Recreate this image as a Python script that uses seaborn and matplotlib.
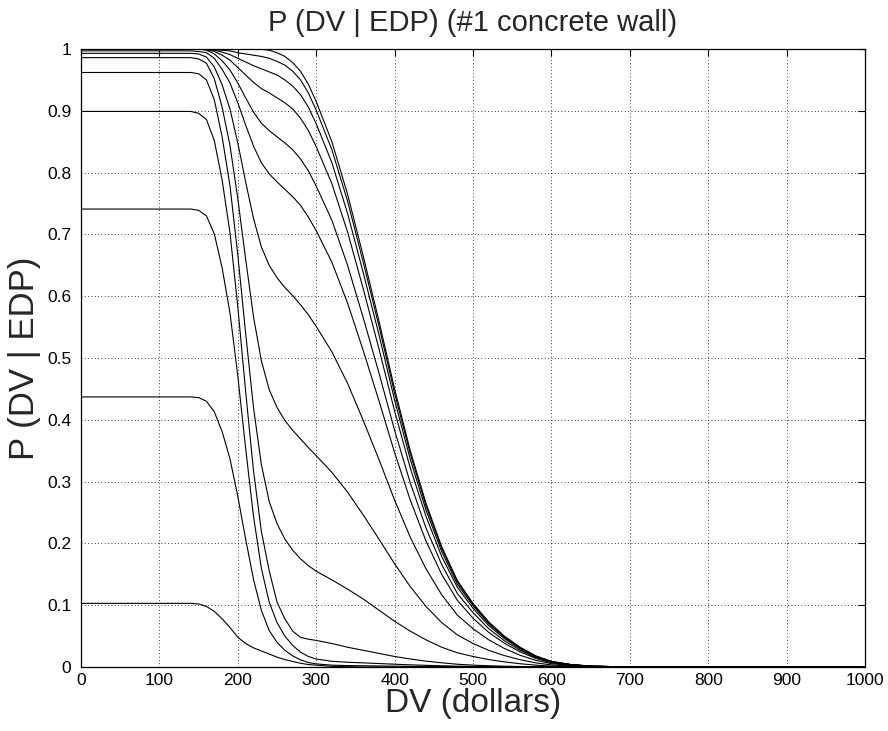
import numpy as np
import pandas as pd
import matplotlib
matplotlib.use("Agg")
import matplotlib.pyplot as plt
import seaborn as sns

# DV grid (dollars) shared by every curve
dv = [0, 140, 150, 160, 170, 180, 190, 200, 210, 220, 230, 240, 250, 260, 270, 280, 290, 300,
      320, 340, 360, 380, 400, 420, 440, 460, 480, 500, 520, 540, 560, 580, 600, 625, 650, 700, 1000]

# P(DV > dv | EDP), one list per EDP level
p_edp01 = [0.103, 0.103, 0.102, 0.098, 0.090, 0.078, 0.064, 0.048, 0.038, 0.031, 0.026, 0.021, 0.016, 0.012,
           0.009, 0.006, 0.004, 0.003,
           0.001, 0.0005, 0, 0, 0, 0, 0, 0, 0, 0, 0, 0, 0, 0, 0, 0, 0, 0, 0]
p_edp02 = [0.437, 0.437, 0.436, 0.430, 0.413, 0.381, 0.337, 0.276, 0.207, 0.142, 0.092, 0.059, 0.040, 0.027,
           0.018, 0.0116, 0.0072, 0.005,
           0.003, 0.0023, 0.002, 0.0017, 0.0014, 0.001, 0.0008, 0.0006, 0.0004, 0.0003, 0, 0, 0, 0, 0, 0, 0, 0, 0]
p_edp03 = [0.741, 0.741, 0.739, 0.730, 0.701, 0.646, 0.573, 0.471, 0.354, 0.244, 0.160, 0.105, 0.072, 0.050,
           0.035, 0.024, 0.017, 0.013,
           0.0092, 0.0077, 0.0067, 0.0056, 0.0045, 0.0035, 0.0027, 0.002, 0.0014, 0.001, 0.0007, 0.0005,
           0.0003, 0.0002, 0.0001, 0, 0, 0, 0]
p_edp04 = [0.899, 0.899, 0.896, 0.886, 0.852, 0.788, 0.703, 0.583, 0.446, 0.318, 0.220, 0.156, 0.105, 0.078,
           0.058, 0.048, 0.045, 0.043,
           0.038, 0.032, 0.027, 0.022, 0.017, 0.013, 0.0095, 0.0068, 0.0045, 0.003, 0.002, 0.0013,
           0.0008, 0.0004, 0.0002, 0.0001, 0, 0, 0]
p_edp05 = [0.962, 0.962, 0.960, 0.950, 0.918, 0.858, 0.779, 0.667, 0.540, 0.420, 0.328, 0.268, 0.232, 0.207,
           0.189, 0.175, 0.164, 0.155,
           0.141, 0.126, 0.110, 0.092, 0.074, 0.058, 0.044, 0.032, 0.023, 0.017, 0.012, 0.0083,
           0.0053, 0.003, 0.0015, 0.0007, 0.0002, 0, 0]
p_edp06 = [0.986, 0.986, 0.984, 0.977, 0.952, 0.906, 0.844, 0.758, 0.660, 0.567, 0.496, 0.449, 0.420, 0.399,
           0.383, 0.369, 0.355, 0.342,
           0.315, 0.283, 0.246, 0.207, 0.167, 0.130, 0.098, 0.072, 0.052, 0.038, 0.027, 0.0185,
           0.0118, 0.0067, 0.0033, 0.0015, 0.0006, 0, 0]
p_edp07 = [0.993, 0.993, 0.992, 0.987, 0.971, 0.942, 0.903, 0.848, 0.785, 0.726, 0.680, 0.650, 0.630, 0.614,
           0.601, 0.586, 0.570, 0.551,
           0.510, 0.459, 0.399, 0.336, 0.270, 0.210, 0.159, 0.117, 0.084, 0.062, 0.044, 0.030,
           0.019, 0.0108, 0.0054, 0.0024, 0.0009, 0, 0]
p_edp08 = [0.997, 0.997, 0.996, 0.994, 0.985, 0.967, 0.945, 0.913, 0.877, 0.843, 0.816, 0.798, 0.785, 0.773,
           0.761, 0.747, 0.728, 0.706,
           0.655, 0.589, 0.512, 0.431, 0.347, 0.270, 0.204, 0.150, 0.108, 0.079, 0.056, 0.0385,
           0.0246, 0.0139, 0.0069, 0.0031, 0.0012, 0, 0]
p_edp09 = [1.0, 1.0, 1.0, 0.998, 0.992, 0.981, 0.966, 0.945, 0.921, 0.898, 0.880, 0.868, 0.858, 0.848,
           0.837, 0.822, 0.803, 0.778,
           0.723, 0.650, 0.565, 0.476, 0.383, 0.298, 0.225, 0.166, 0.119, 0.088, 0.062, 0.0425,
           0.0272, 0.0153, 0.0077, 0.0034, 0.0013, 0, 0]
p_edp10 = [1.0, 1.0, 1.0, 0.999, 0.996, 0.990, 0.982, 0.970, 0.958, 0.946, 0.936, 0.929, 0.921, 0.913,
           0.903, 0.888, 0.868, 0.842,
           0.782, 0.704, 0.612, 0.515, 0.414, 0.322, 0.244, 0.179, 0.129, 0.095, 0.067, 0.046,
           0.0294, 0.0166, 0.0083, 0.0037, 0.0014, 0, 0]
p_edp11 = [1.0, 1.0, 1.0, 0.999, 0.998, 0.995, 0.991, 0.985, 0.979, 0.973, 0.968, 0.963, 0.958, 0.950,
           0.940, 0.926, 0.906, 0.879,
           0.816, 0.734, 0.638, 0.538, 0.432, 0.336, 0.254, 0.187, 0.134, 0.099, 0.070, 0.048,
           0.0307, 0.0173, 0.0086, 0.0038, 0.0014, 0, 0]
p_edp12 = [1.0, 1.0, 1.0, 1.0, 0.999, 0.998, 0.997, 0.994, 0.992, 0.990, 0.988, 0.985, 0.980, 0.974,
           0.964, 0.950, 0.929, 0.901,
           0.837, 0.754, 0.655, 0.552, 0.443, 0.345, 0.261, 0.192, 0.138, 0.101, 0.072, 0.049,
           0.0315, 0.0177, 0.0089, 0.0039, 0.0015, 0, 0]
p_edp13 = [1.0, 1.0, 1.0, 1.0, 1.0, 1.0, 1.0, 1.0, 1.0, 1.0, 0.9995, 0.998, 0.994, 0.988,
           0.978, 0.964, 0.943, 0.915,
           0.850, 0.765, 0.665, 0.560, 0.450, 0.350, 0.265, 0.195, 0.140, 0.103, 0.073, 0.050,
           0.032, 0.018, 0.009, 0.004, 0.0015, 0, 0]

curves = [p_edp01, p_edp02, p_edp03, p_edp04, p_edp05, p_edp06, p_edp07,
          p_edp08, p_edp09, p_edp10, p_edp11, p_edp12, p_edp13]

x_ticks = [0, 100, 200, 300, 400, 500, 600, 700, 800, 900, 1000]
y_ticks = [0, 0.1, 0.2, 0.3, 0.4, 0.5, 0.6, 0.7, 0.8, 0.9, 1]
y_tick_labels = ["0", "0.1", "0.2", "0.3", "0.4", "0.5", "0.6", "0.7", "0.8", "0.9", "1"]

rows = []
for i, c in enumerate(curves):
    for x, p in zip(dv, c):
        rows.append({"curve": i, "dv": x, "p": p})
df = pd.DataFrame(rows)

sns.set_style("white")
plt.rcParams["font.family"] = ["Liberation Sans", "DejaVu Sans"]

fig = plt.figure(figsize=(8.88, 7.31), dpi=100)
ax = fig.add_axes([81 / 888, 1 - 667 / 731, (865 - 81) / 888, (667 - 49) / 731])

sns.lineplot(data=df, x="dv", y="p", units="curve", estimator=None,
             color="black", linewidth=0.8, ax=ax, legend=False)

ax.set_xlim(0, 1000)
ax.set_ylim(0, 1)
ax.set_xticks(x_ticks)
ax.set_yticks(y_ticks)
ax.set_yticklabels(y_tick_labels)
ax.grid(True, color="black", linestyle=(0, (1, 3)), linewidth=0.6)
ax.tick_params(direction="in", top=True, right=True, length=5, width=0.8,
               labelsize=12.5, colors="black")
ax.tick_params(axis="x", pad=4)
ax.tick_params(axis="y", pad=7)
for s in ax.spines.values():
    s.set_color("black")
    s.set_linewidth(0.9)

ax.set_title("P (DV | EDP) (#1 concrete wall)", fontsize=21, pad=13)
ax.set_xlabel("DV (dollars)", fontsize=24, labelpad=0)
ax.set_ylabel("P (DV | EDP)", fontsize=25, labelpad=4)

fig.savefig("out.png", dpi=100, facecolor="white")
